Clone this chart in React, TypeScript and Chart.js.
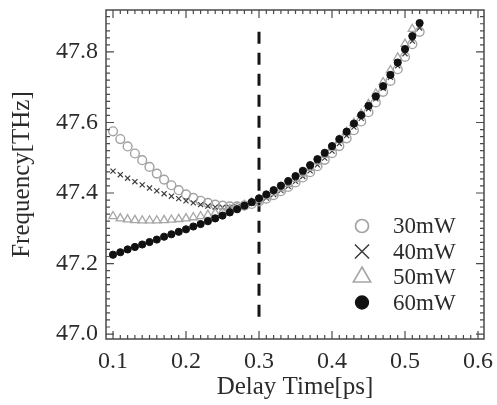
import React, { useEffect, useRef } from "react";
import { Chart, registerables } from "chart.js";

Chart.register(...registerables);

const DELAY = [
  0.10, 0.11, 0.12, 0.13, 0.14, 0.15, 0.16, 0.17, 0.18, 0.19,
  0.20, 0.21, 0.22, 0.23, 0.24, 0.25, 0.26, 0.27, 0.28, 0.29,
  0.30, 0.31, 0.32, 0.33, 0.34, 0.35, 0.36, 0.37, 0.38, 0.39,
  0.40, 0.41, 0.42, 0.43, 0.44, 0.45, 0.46, 0.47, 0.48, 0.49,
  0.50, 0.51, 0.52,
];

const F_30MW = [
  47.575, 47.553, 47.532, 47.512, 47.493, 47.474, 47.455, 47.438, 47.422, 47.408,
  47.396, 47.386, 47.378, 47.372, 47.367, 47.364, 47.362, 47.362, 47.364, 47.369,
  47.376, 47.384, 47.394, 47.405, 47.417, 47.430, 47.444, 47.459, 47.476, 47.494,
  47.513, 47.533, 47.555, 47.578, 47.603, 47.629, 47.657, 47.687, 47.718, 47.751,
  47.786, 47.822, 47.857,
];

const F_40MW = [
  47.462, 47.452, 47.442, 47.432, 47.423, 47.414, 47.406, 47.398, 47.391, 47.384,
  47.378, 47.372, 47.367, 47.363, 47.360, 47.359, 47.359, 47.361, 47.365, 47.371,
  47.378, 47.386, 47.396, 47.407, 47.419, 47.433, 47.447, 47.463, 47.480, 47.499,
  47.519, 47.540, 47.563, 47.587, 47.612, 47.639, 47.667, 47.697, 47.728, 47.761,
  47.795, 47.831, 47.868,
];

const F_50MW = [
  47.334, 47.328, 47.325, 47.323, 47.322, 47.322, 47.322, 47.323, 47.324, 47.326,
  47.328, 47.331, 47.334, 47.338, 47.343, 47.348, 47.354, 47.360, 47.366, 47.373,
  47.381, 47.390, 47.401, 47.413, 47.426, 47.440, 47.455, 47.471, 47.489, 47.508,
  47.528, 47.550, 47.573, 47.598, 47.624, 47.652, 47.682, 47.714, 47.748, 47.784,
  47.823, 47.865,
];

const F_60MW = [
  47.225, 47.232, 47.240, 47.247, 47.254, 47.261, 47.268, 47.276, 47.283, 47.290,
  47.297, 47.305, 47.312, 47.320, 47.328, 47.336, 47.345, 47.354, 47.364, 47.374,
  47.385, 47.396, 47.408, 47.421, 47.434, 47.448, 47.463, 47.479, 47.496, 47.514,
  47.533, 47.553, 47.574, 47.597, 47.621, 47.647, 47.674, 47.703, 47.735, 47.770,
  47.808, 47.845, 47.882,
];

const SERIES_LABELS = ["30mW", "40mW", "50mW", "60mW"];
const X_TICKS = [0.1, 0.2, 0.3, 0.4, 0.5, 0.6];
const Y_TICKS = [47.0, 47.2, 47.4, 47.6, 47.8];
const X_RANGE = [0.0904, 0.6082];
const Y_RANGE = [46.986, 47.919];
const X_MINOR_STEP = 0.01;
const Y_MINOR_STEP = 0.02;
const MARK_TIME = 0.3;
const MARK_FREQ = [47.034, 47.857];

const FONT_FAMILY = "'Liberation Serif', 'Times New Roman', serif";
const TEXT_COLOR = "#2b2b2b";
const AXIS_COLOR = "#4a4a4a";

const toPoints = (ys: number[]) => ys.map((y, i) => ({ x: DELAY[i], y }));

const STYLES = [
  { pointStyle: "circle", radius: 4.4, border: "#a2a2a2", bg: "rgba(255,255,255,0)", width: 1.4, legendR: 6.5 },
  { pointStyle: "crossRot", radius: 3.6, border: "#3c3c3c", bg: "#3c3c3c", width: 1.2, legendR: 10 },
  { pointStyle: "triangle", radius: 4.8, border: "#a6a6a6", bg: "rgba(255,255,255,0)", width: 1.3, legendR: 10 },
  { pointStyle: "circle", radius: 3.6, border: "#111111", bg: "#111111", width: 1, legendR: 6.5 },
];

function drawMarker(ctx: CanvasRenderingContext2D, style: string, x: number, y: number, r: number) {
  ctx.beginPath();
  if (style === "circle") {
    ctx.arc(x, y, r, 0, Math.PI * 2);
  } else if (style === "crossRot") {
    const o = Math.cos(Math.PI / 4) * r;
    ctx.moveTo(x - o, y - o);
    ctx.lineTo(x + o, y + o);
    ctx.moveTo(x + o, y - o);
    ctx.lineTo(x - o, y + o);
  } else if (style === "triangle") {
    const xo = Math.cos(Math.PI / 6) * r;
    ctx.moveTo(x, y - r);
    ctx.lineTo(x + xo, y + r / 2);
    ctx.lineTo(x - xo, y + r / 2);
    ctx.closePath();
  }
}

const framePlugin = {
  id: "frameTicks",
  beforeDatasetsDraw(chart: any) {
    const { ctx, scales } = chart;
    const xs = scales.x;
    const ys = scales.y;
    ctx.save();
    ctx.strokeStyle = "#151515";
    ctx.lineWidth = 3;
    ctx.setLineDash([12, 9]);
    ctx.beginPath();
    const px = xs.getPixelForValue(MARK_TIME);
    ctx.moveTo(px, ys.getPixelForValue(MARK_FREQ[1]));
    ctx.lineTo(px, ys.getPixelForValue(MARK_FREQ[0]));
    ctx.stroke();
    ctx.restore();
  },
  afterDraw(chart: any) {
    const { ctx, chartArea, scales } = chart;
    const { left, right, top, bottom } = chartArea;
    const xs = scales.x;
    const ys = scales.y;
    ctx.save();
    ctx.strokeStyle = AXIS_COLOR;
    ctx.lineWidth = 1.5;
    ctx.strokeRect(left, top, right - left, bottom - top);
    ctx.lineWidth = 1.2;
    ctx.beginPath();
    const nx = Math.round((X_RANGE[1] - X_RANGE[0]) / X_MINOR_STEP) + 2;
    const x0 = Math.ceil(X_RANGE[0] / X_MINOR_STEP);
    for (let i = 0; i < nx; i++) {
      const v = (x0 + i) * X_MINOR_STEP;
      if (v > X_RANGE[1] + 1e-9) break;
      const major = Math.abs(v * 10 - Math.round(v * 10)) < 1e-6;
      const len = major ? 8 : 4;
      const p = xs.getPixelForValue(v);
      ctx.moveTo(p, bottom);
      ctx.lineTo(p, bottom - len);
      ctx.moveTo(p, top);
      ctx.lineTo(p, top + len);
    }
    const ny = Math.round((Y_RANGE[1] - Y_RANGE[0]) / Y_MINOR_STEP) + 2;
    const y0 = Math.ceil(Y_RANGE[0] / Y_MINOR_STEP);
    for (let i = 0; i < ny; i++) {
      const v = (y0 + i) * Y_MINOR_STEP;
      if (v > Y_RANGE[1] + 1e-9) break;
      const major = Math.abs(v * 5 - Math.round(v * 5)) < 1e-6;
      const len = major ? 8 : 4;
      const p = ys.getPixelForValue(v);
      ctx.moveTo(left, p);
      ctx.lineTo(left + len, p);
      ctx.moveTo(right, p);
      ctx.lineTo(right - len, p);
    }
    ctx.stroke();

    // legend
    const mx = right - 122;
    const tx = right - 91;
    ctx.font = `23px ${FONT_FAMILY}`;
    ctx.textBaseline = "middle";
    ctx.textAlign = "left";
    SERIES_LABELS.forEach((label, i) => {
      const st = STYLES[i];
      const cy = top + 216 + i * 25.5;
      ctx.strokeStyle = st.border;
      ctx.fillStyle = st.bg;
      ctx.lineWidth = st.width + 0.3;
      drawMarker(ctx, st.pointStyle, mx, cy, st.legendR);
      if (i === 3) ctx.fill();
      ctx.stroke();
      ctx.fillStyle = TEXT_COLOR;
      ctx.fillText(label, tx, cy + 1);
    });
    ctx.restore();
  },
};

export default function App() {
  const ref = useRef<HTMLCanvasElement | null>(null);
  useEffect(() => {
    if (!ref.current) return;
    const tickFont = { family: FONT_FAMILY, size: 24 };
    const titleFont = { family: FONT_FAMILY, size: 25 };
    const allY = [F_30MW, F_40MW, F_50MW, F_60MW];
    const chart = new Chart(ref.current, {
      type: "scatter",
      data: {
        datasets: allY.map((ys, i) => ({
          label: SERIES_LABELS[i],
          data: toPoints(ys),
          pointStyle: STYLES[i].pointStyle as any,
          pointRadius: STYLES[i].radius,
          pointBorderColor: STYLES[i].border,
          pointBackgroundColor: STYLES[i].bg,
          pointBorderWidth: STYLES[i].width,
          showLine: false,
          order: 3 - i,
        })),
      },
      options: {
        animation: false,
        responsive: false,
        events: [],
        layout: { padding: { top: 10, right: 13, left: 0, bottom: 0 } },
        plugins: { legend: { display: false }, tooltip: { enabled: false } },
        scales: {
          x: {
            type: "linear",
            min: X_RANGE[0],
            max: X_RANGE[1],
            afterBuildTicks: (s: any) => {
              s.ticks = X_TICKS.map((v) => ({ value: v }));
            },
            afterFit: (s: any) => {
              s.height = 66;
              s.paddingLeft = 0;
              s.paddingRight = 0;
            },
            grid: { display: false, drawTicks: false },
            border: { display: false },
            ticks: {
              font: tickFont,
              color: TEXT_COLOR,
              padding: 8,
              maxRotation: 0,
              autoSkip: false,
              callback: (v: any) => Number(v).toFixed(1),
            },
            title: {
              display: true,
              text: "Delay Time[ps]",
              font: titleFont,
              color: TEXT_COLOR,
              padding: { top: 0, bottom: 3 },
            },
          },
          y: {
            type: "linear",
            min: Y_RANGE[0],
            max: Y_RANGE[1],
            afterBuildTicks: (s: any) => {
              s.ticks = Y_TICKS.map((v) => ({ value: v }));
            },
            afterFit: (s: any) => {
              s.width = 106;
              s.paddingTop = 0;
              s.paddingBottom = 0;
            },
            grid: { display: false, drawTicks: false },
            border: { display: false },
            ticks: {
              font: tickFont,
              color: TEXT_COLOR,
              padding: 8,
              autoSkip: false,
              callback: (v: any) => Number(v).toFixed(1),
            },
            title: {
              display: true,
              text: "Frequency[THz]",
              font: titleFont,
              color: TEXT_COLOR,
              padding: { top: 7, bottom: 0 },
            },
          },
        },
      },
      plugins: [framePlugin],
    });
    return () => chart.destroy();
  }, []);

  return (
    <div style={{ position: "absolute", left: 0, top: 0, width: 497, height: 405, background: "#fff" }}>
      <canvas ref={ref} width={497} height={405} style={{ display: "block", width: 497, height: 405 }} />
    </div>
  );
}
